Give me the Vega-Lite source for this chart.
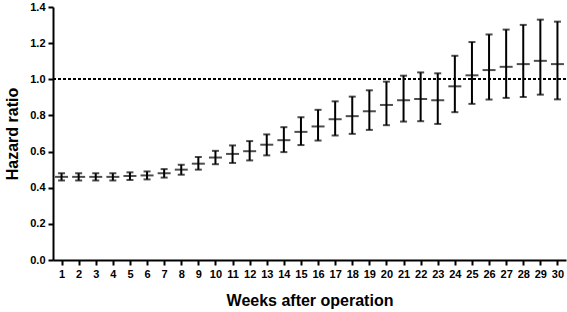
{
  "$schema": "https://vega.github.io/schema/vega-lite/v6.json",
  "width": 513,
  "height": 253,
  "autosize": {"type": "none"},
  "padding": {"left": 53, "top": 7, "right": 1, "bottom": 52},
  "config": {
    "view": {"stroke": null},
    "font": "Liberation Sans",
    "axis": {
      "grid": false,
      "domainColor": "#000",
      "domainWidth": 2,
      "tickColor": "#000",
      "tickWidth": 2,
      "tickSize": 5,
      "labelOverlap": false,
      "labelFont": "Liberation Sans",
      "labelFontWeight": "bold",
      "labelFontSize": 11,
      "labelColor": "#000",
      "titleFont": "Liberation Sans",
      "titleFontWeight": "bold",
      "titleFontSize": 16,
      "titleColor": "#000"
    }
  },
  "data": {
    "values": [
      {"week": 1, "hr": 0.46, "lo": 0.44, "hi": 0.48},
      {"week": 2, "hr": 0.46, "lo": 0.44, "hi": 0.48},
      {"week": 3, "hr": 0.46, "lo": 0.44, "hi": 0.48},
      {"week": 4, "hr": 0.46, "lo": 0.44, "hi": 0.48},
      {"week": 5, "hr": 0.465, "lo": 0.443, "hi": 0.485},
      {"week": 6, "hr": 0.468, "lo": 0.446, "hi": 0.49},
      {"week": 7, "hr": 0.48, "lo": 0.456, "hi": 0.503},
      {"week": 8, "hr": 0.5, "lo": 0.472, "hi": 0.527},
      {"week": 9, "hr": 0.533, "lo": 0.5, "hi": 0.57},
      {"week": 10, "hr": 0.567, "lo": 0.53, "hi": 0.604},
      {"week": 11, "hr": 0.587, "lo": 0.537, "hi": 0.634},
      {"week": 12, "hr": 0.602, "lo": 0.551, "hi": 0.658},
      {"week": 13, "hr": 0.638, "lo": 0.579, "hi": 0.695},
      {"week": 14, "hr": 0.663, "lo": 0.597, "hi": 0.735},
      {"week": 15, "hr": 0.709, "lo": 0.636, "hi": 0.79},
      {"week": 16, "hr": 0.739, "lo": 0.661, "hi": 0.831},
      {"week": 17, "hr": 0.779, "lo": 0.689, "hi": 0.878},
      {"week": 18, "hr": 0.796, "lo": 0.698, "hi": 0.904},
      {"week": 19, "hr": 0.823, "lo": 0.72, "hi": 0.939},
      {"week": 20, "hr": 0.858, "lo": 0.746, "hi": 0.987},
      {"week": 21, "hr": 0.884, "lo": 0.766, "hi": 1.02},
      {"week": 22, "hr": 0.891, "lo": 0.768, "hi": 1.038},
      {"week": 23, "hr": 0.884, "lo": 0.753, "hi": 1.033},
      {"week": 24, "hr": 0.961, "lo": 0.818, "hi": 1.13},
      {"week": 25, "hr": 1.022, "lo": 0.864, "hi": 1.206},
      {"week": 26, "hr": 1.051, "lo": 0.888, "hi": 1.248},
      {"week": 27, "hr": 1.069, "lo": 0.897, "hi": 1.275},
      {"week": 28, "hr": 1.084, "lo": 0.902, "hi": 1.301},
      {"week": 29, "hr": 1.102, "lo": 0.915, "hi": 1.33},
      {"week": 30, "hr": 1.084, "lo": 0.889, "hi": 1.319}
    ]
  },
  "layer": [
    {
      "mark": {"type": "rule", "color": "#000", "strokeWidth": 1.5, "strokeDash": [3, 2]},
      "encoding": {"y": {"datum": 1, "type": "quantitative", "scale": {"domain": [0, 1.4]}}}
    },
    {
      "mark": {"type": "rule", "color": "#000", "strokeWidth": 2},
      "encoding": {
        "x": {
          "field": "week", "type": "quantitative",
          "scale": {"domain": [0.5, 30.5], "nice": false, "zero": false},
          "axis": {"values": [1,2,3,4,5,6,7,8,9,10,11,12,13,14,15,16,17,18,19,20,21,22,23,24,25,26,27,28,29,30], "tickCount": 30, "labelPadding": 3, "title": "Weeks after operation", "titlePadding": 13, "labelFlush": false}
        },
        "y": {
          "field": "lo", "type": "quantitative",
          "scale": {"domain": [0, 1.4], "nice": false},
          "axis": {"values": [0, 0.2, 0.4, 0.6, 0.8, 1.0, 1.2, 1.4], "tickCount": 8, "format": ".1f", "title": "Hazard ratio", "labelPadding": 3, "titlePadding": 9, "labelFlush": false}
        },
        "y2": {"field": "hi"}
      }
    },
    {
      "mark": {"type": "tick", "orient": "horizontal", "color": "#000", "thickness": 2, "size": 7},
      "encoding": {
        "x": {"field": "week", "type": "quantitative"},
        "y": {"field": "lo", "type": "quantitative"}
      }
    },
    {
      "mark": {"type": "tick", "orient": "horizontal", "color": "#000", "thickness": 2, "size": 7},
      "encoding": {
        "x": {"field": "week", "type": "quantitative"},
        "y": {"field": "hi", "type": "quantitative"}
      }
    },
    {
      "mark": {"type": "tick", "orient": "horizontal", "color": "#000", "thickness": 2, "size": 13},
      "encoding": {
        "x": {"field": "week", "type": "quantitative"},
        "y": {"field": "hr", "type": "quantitative"}
      }
    }
  ]
}
